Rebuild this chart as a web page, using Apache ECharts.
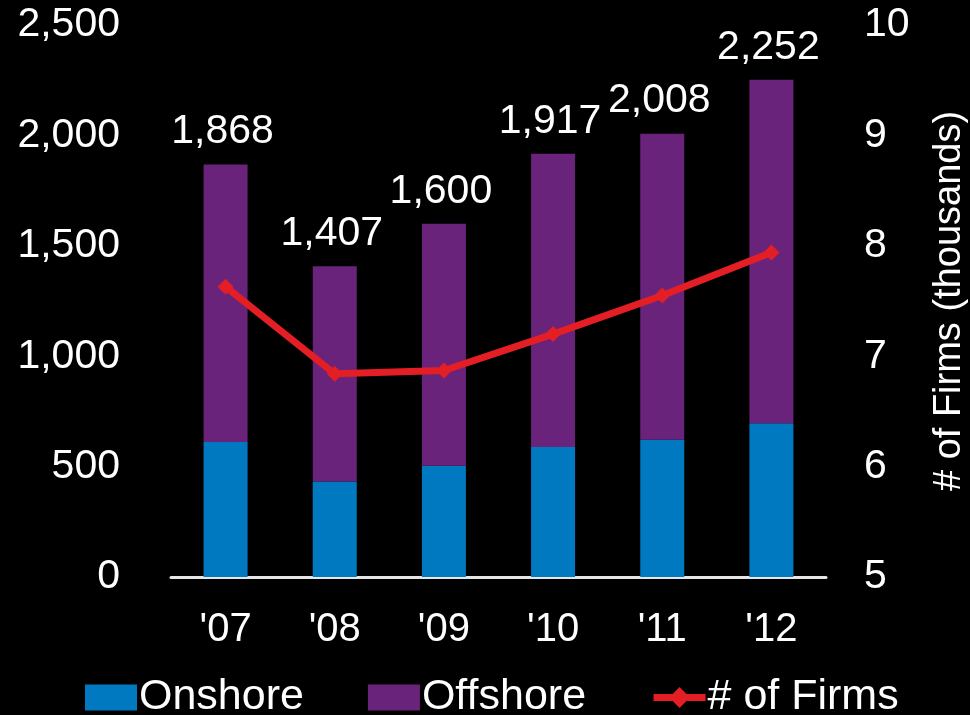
<!DOCTYPE html>
<html>
<head>
<meta charset="utf-8">
<script src="https://cdn.jsdelivr.net/npm/echarts@6/dist/echarts.min.js"></script>
<style>
  html, body { margin: 0; padding: 0; background: #000; }
  #chart { width: 970px; height: 715px; }
</style>
</head>
<body>
<div id="chart"></div>
<script>
// Revenue split (left axis) and number of firms in thousands (right axis)
const years = ["'07", "'08", "'09", "'10", "'11", "'12"];
const onshore = [611, 432, 504, 589, 622, 696];
const offshore = [1257, 975, 1096, 1328, 1386, 1556];
const firms = [7.63, 6.84, 6.87, 7.20, 7.55, 7.94];

const FONT = '"Liberation Sans", Arial, sans-serif';
const WHITE = '#ffffff';
const RED = '#E31E24';

const chart = echarts.init(document.getElementById('chart'), null, { renderer: 'canvas' });

chart.setOption({
  backgroundColor: '#000000',
  animation: false,
  textStyle: { fontFamily: FONT, color: WHITE },
  grid: {
    left: 171, right: 144, top: 25, bottom: 138,
    containLabel: false,
    outerBoundsMode: 'none'
  },
  legend: {
    left: 80,
    top: 671,
    itemWidth: 52,
    itemHeight: 26,
    itemGap: 64,
    textStyle: { color: WHITE, fontSize: 43, fontFamily: FONT, padding: [0, 0, 0, -3] },
    data: [
      { name: 'Onshore', icon: 'rect' },
      { name: 'Offshore', icon: 'rect' },
      { name: '# of Firms', itemStyle: { color: RED }, lineStyle: { color: RED, width: 7 } }
    ]
  },
  xAxis: {
    type: 'category',
    data: years,
    axisLine: { show: true, lineStyle: { color: '#e6e6e6', width: 3 } },
    axisTick: { show: false },
    axisLabel: { color: WHITE, fontSize: 40, fontFamily: FONT, margin: 33 }
  },
  yAxis: [
    {
      type: 'value',
      min: 0, max: 2500, interval: 500,
      axisLine: { show: false },
      axisTick: { show: false },
      splitLine: { show: false },
      axisLabel: {
        color: WHITE, fontSize: 41, fontFamily: FONT, margin: 51,
        formatter: v => v.toLocaleString('en-US')
      }
    },
    {
      type: 'value',
      position: 'right',
      min: 5, max: 10, interval: 1,
      name: '# of Firms (thousands)',
      nameLocation: 'middle',
      nameRotate: 90,
      nameGap: 105,
      nameTextStyle: { color: WHITE, fontSize: 38, fontFamily: FONT },
      axisLine: { show: false },
      axisTick: { show: false },
      splitLine: { show: false },
      axisLabel: { color: WHITE, fontSize: 41, fontFamily: FONT, margin: 38 }
    }
  ],
  series: [
    {
      name: 'Onshore',
      type: 'bar',
      stack: 'rev',
      barWidth: 44,
      itemStyle: { color: '#0079C1' },
      data: onshore
    },
    {
      name: 'Offshore',
      type: 'bar',
      stack: 'rev',
      barWidth: 44,
      itemStyle: { color: '#6A237B' },
      label: {
        show: true,
        position: 'top',
        distance: 12,
        color: WHITE,
        fontSize: 41,
        fontFamily: FONT,
        offset: [-3, 0],
        formatter: p => (onshore[p.dataIndex] + offshore[p.dataIndex]).toLocaleString('en-US')
      },
      data: offshore
    },
    {
      name: '# of Firms',
      type: 'line',
      yAxisIndex: 1,
      symbol: 'diamond',
      symbolSize: 16,
      lineStyle: { color: RED, width: 7 },
      itemStyle: { color: RED },
      data: firms
    }
  ]
});
</script>
</body>
</html>
